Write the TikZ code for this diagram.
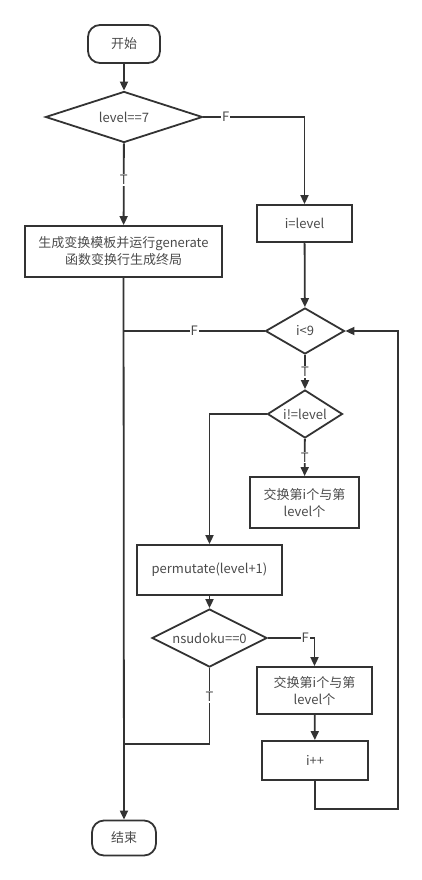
\documentclass[tikz,border=0pt]{standalone}
\usepackage{fontspec}
\setmainfont{Noto Sans CJK SC}
\usetikzlibrary{shapes.geometric,arrows.meta}
\definecolor{lc}{HTML}{333333}
\definecolor{tc}{HTML}{4A4A4A}
\begin{document}
\begin{tikzpicture}[x=1pt,y=-1pt,
  line/.style={draw=lc, line width=1.8pt},
  arr/.style={line, -{Triangle[length=9pt,width=8pt]}},
  box/.style={draw=lc, line width=1.8pt, rectangle, inner sep=0pt,
    font=\fontsize{13}{17}\selectfont, text=tc, align=center},
  term/.style={box, rounded corners=12pt},
  dec/.style={box, diamond, shape aspect=2.5},
  lab/.style={fill=white, inner sep=1pt, font=\fontsize{13}{14}\selectfont, text=tc}]
\useasboundingbox (0,0) rectangle (422,880);
\node[term, minimum width=72pt, minimum height=38pt] (start) at (124,44) {开始};
\node[dec, minimum width=157pt, minimum height=51pt] (d1) at (124,117) {level==7};
\node[box, minimum width=197pt, minimum height=51pt] (gen) at (123.5,251.5) {生成变换模板并运行generate\\函数变换行生成终局};
\node[box, minimum width=95pt, minimum height=37pt] (ilev) at (304.5,223.5) {i=level};
\node[dec, minimum width=79pt, minimum height=46pt, shape aspect=1.7] (d2) at (305,331) {i<9};
\node[dec, minimum width=75pt, minimum height=48pt, shape aspect=1.6] (d3) at (305,414) {i!=level};
\node[box, minimum width=109pt, minimum height=51pt] (sw1) at (304.5,502.5) {交换第i个与第\\level个};
\node[box, minimum width=145pt, minimum height=50pt] (perm) at (209.5,570) {permutate(level+1)};
\node[dec, minimum width=115pt, minimum height=58pt, shape aspect=2] (d4) at (209.5,638) {nsudoku==0};
\node[box, minimum width=115pt, minimum height=47pt] (sw2) at (314.5,690.5) {交换第i个与第\\level个};
\node[box, minimum width=106pt, minimum height=39pt] (inc) at (315,760.5) {i++};
\node[term, minimum width=64pt, minimum height=35pt] (end) at (124,838) {结束};
\coordinate (j1) at (124,331);
\coordinate (j2) at (124,744);
\coordinate (c2) at (398,809);
\draw[arr] (start) -- (d1);
\draw[arr] (d1) -- node[lab, pos=0.45]{T} (gen);
\draw[arr] (d1.east) -| node[lab, pos=0.11]{F} (ilev.north);
\draw[arr] (ilev) -- (d2);
\draw[line] (d2.west) -- node[lab]{F} (j1);
\draw[arr] (gen) -- (end);
\draw[arr] (d2) -- node[lab]{T} (d3);
\draw[arr] (d3.west) -| (perm.north);
\draw[arr] (d3) -- node[lab]{T} (sw1);
\draw[arr] (perm) -- (d4);
\draw[arr] (d4.east) -| node[lab, pos=0.4]{F} (sw2.north);
\draw[arr] (sw2) -- (inc);
\draw[arr] (inc.south) |- (c2) |- (d2.east);
\draw[line] (d4.south) |- node[lab, pos=0.19]{T} (j2);
\end{tikzpicture}
\end{document}
